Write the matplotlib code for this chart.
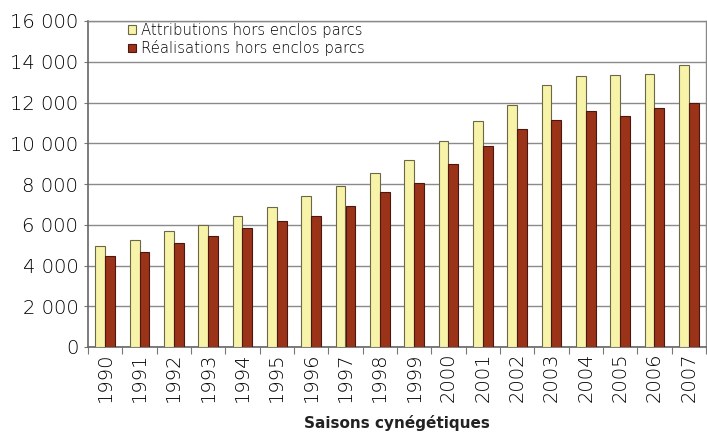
import matplotlib
matplotlib.use("Agg")
import matplotlib.pyplot as plt
import numpy as np
from matplotlib.ticker import FuncFormatter, FixedLocator

years = ["1990", "1991", "1992", "1993", "1994", "1995", "1996", "1997", "1998",
         "1999", "2000", "2001", "2002", "2003", "2004", "2005", "2006", "2007"]
attributions = [4950, 5250, 5700, 6000, 6450, 6850, 7400, 7900, 8550,
                9200, 10100, 11100, 11900, 12850, 13300, 13350, 13400, 13850]
realisations = [4450, 4650, 5100, 5450, 5850, 6200, 6450, 6900, 7600,
                8050, 9000, 9850, 10700, 11150, 11600, 11350, 11750, 12000]

plt.rcParams['font.family'] = ['DejaVu Sans']

fig = plt.figure(figsize=(7.07, 4.33), dpi=100)
ax = fig.add_axes([88/707, 1-347/433, 618/707, 326/433])

x = np.arange(len(years))
w = 0.29
ax.bar(x - w/2, attributions, width=w, color="#F7F3A8", edgecolor="#6b6848",
       linewidth=0.8, label="Attributions hors enclos parcs", zorder=3)
ax.bar(x + w/2, realisations, width=w, color="#9B3318", edgecolor="#4a1810",
       linewidth=0.8, label="Réalisations hors enclos parcs", zorder=3)

ax.set_xlim(-0.5, len(years) - 0.5)
ax.set_ylim(0, 16000)
ax.set_yticks(np.arange(0, 16001, 2000))
ax.yaxis.set_major_formatter(FuncFormatter(lambda v, p: f"{int(v):,}".replace(",", " ")))
ax.grid(axis="y", color="#8a8a8a", linewidth=1.0, zorder=0)

ax.set_xticks(x)
ax.set_xticklabels(years, rotation=90, fontsize=14, fontweight="light")
ax.xaxis.set_minor_locator(FixedLocator(np.arange(-0.5, len(years), 1)))
ax.tick_params(axis="x", which="major", length=0, pad=4, colors="#000000")
ax.tick_params(axis="x", which="minor", length=5, width=0.8, color="#777777")
ax.tick_params(axis="y", length=3, width=0.8, color="#777777", labelsize=14,
               labelcolor="#000000", pad=4)
for lbl in ax.get_yticklabels():
    lbl.set_fontweight("light")

for s in ["left", "bottom"]:
    ax.spines[s].set_color("#666666")
    ax.spines[s].set_linewidth(1.2)
for s in ["top", "right"]:
    ax.spines[s].set_color("#888888")
    ax.spines[s].set_linewidth(1.0)

ax.set_xlabel("Saisons cynégétiques", fontsize=11, fontweight="bold",
              color="#222222", labelpad=9)

leg = ax.legend(loc="upper left", bbox_to_anchor=(0.055, 1.012), frameon=False,
                prop={"size": 10.7, "weight": "light"},
                handlelength=0.55, handleheight=0.55,
                handletextpad=0.35, labelspacing=0.15, borderaxespad=0.0)
for t in leg.get_texts():
    t.set_color("#000000")

fig.savefig("out.png", dpi=100)
